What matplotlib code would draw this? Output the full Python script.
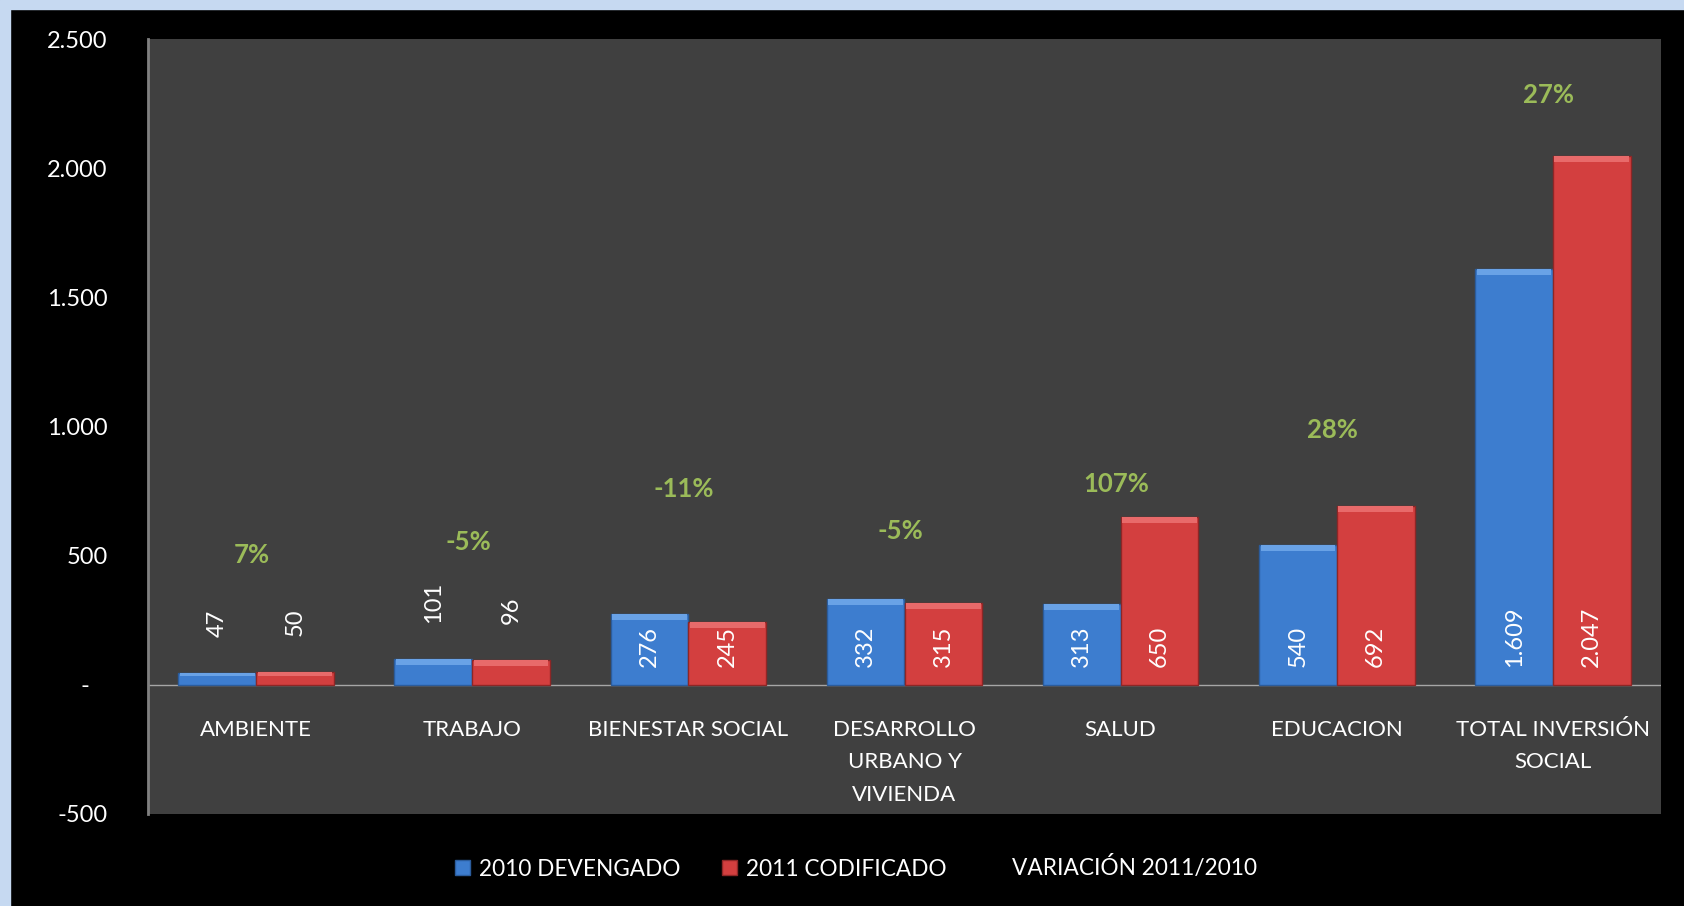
import matplotlib
matplotlib.use("Agg")
import matplotlib.pyplot as plt
from matplotlib.patches import Patch, Rectangle
from matplotlib.lines import Line2D
from matplotlib.ticker import FuncFormatter

plt.rcParams['font.family'] = ['Lato', 'DejaVu Sans']

# data (millones)
categorias = ["AMBIENTE", "TRABAJO", "BIENESTAR SOCIAL", "DESARROLLO\nURBANO Y\nVIVIENDA",
              "SALUD", "EDUCACION", "TOTAL INVERSIÓN\nSOCIAL"]
dev_2010 = [47, 101, 276, 332, 313, 540, 1609]
cod_2011 = [50, 96, 245, 315, 650, 692, 2047]
variacion = ["7%", "-5%", "-11%", "-5%", "107%", "28%", "27%"]
# heights where the variation labels sit
var_label_y = [503, 554, 759, 596, 778, 987, 2284]

azul, azul_claro, azul_osc = "#3D7DCF", "#69A2E6", "#2B5C9C"
rojo, rojo_claro, rojo_osc = "#D33F3F", "#E86A6A", "#8E2626"
verde = "#9BBB59"

fig = plt.figure(figsize=(16.84, 9.06), dpi=100, facecolor="black")
# light blue frame at top / left
fig.patches.append(Rectangle((0, 0), 10 / 1684, 1, transform=fig.transFigure, color="#C6D9F1", zorder=0))
fig.patches.append(Rectangle((0, 1 - 9 / 906), 1, 9 / 906, transform=fig.transFigure, color="#C6D9F1", zorder=0))

ax = fig.add_axes([148 / 1684, 92 / 906, 1513 / 1684, 775 / 906])
ax.set_facecolor("#404040")
ax.set_xlim(-0.5, len(categorias) - 0.5)
ax.set_ylim(-500, 2500)

w = 0.36
x = list(range(len(categorias)))
px = 3000 / 775  # data units per pixel
band = 6 * px

for serie, desp, c, cl, co in [(dev_2010, -w / 2, azul, azul_claro, azul_osc),
                               (cod_2011, w / 2, rojo, rojo_claro, rojo_osc)]:
    xs = [i + desp for i in x]
    ax.bar(xs, serie, width=w, color=c, edgecolor=co, linewidth=1, zorder=3)
    tops = [min(band, v * 0.3) for v in serie]
    ax.bar(xs, tops, bottom=[v - t for v, t in zip(serie, tops)], width=w * 0.96,
           color=cl, linewidth=0, zorder=4)
    for xi, v in zip(xs, serie):
        lab = f"{v:,}".replace(",", ".")
        if v < 150:
            ax.annotate(lab, (xi, v), xytext=(0, 26), textcoords="offset points",
                        rotation=90, ha="center", va="bottom", color="white", fontsize=17, zorder=5)
        else:
            ax.annotate(lab, (xi, 0), xytext=(0, 13), textcoords="offset points",
                        rotation=90, ha="center", va="bottom", color="white", fontsize=17, zorder=5)

for i, (t, yy) in enumerate(zip(variacion, var_label_y)):
    ax.text(i - 0.02, yy, t, color=verde, fontsize=18.5, fontweight="bold", ha="center", va="center", zorder=5)

for i, c in enumerate(categorias):
    ax.annotate(c, (i, 0), xytext=(0, -25), textcoords="offset points", ha="center", va="top",
                color="white", fontsize=16, linespacing=1.8)

ax.axhline(0, color="#A6A6A6", linewidth=1, zorder=2)
for s in ["top", "right", "bottom"]:
    ax.spines[s].set_visible(False)
ax.spines["left"].set_color("#808080")
ax.spines["left"].set_linewidth(2)
ax.set_xticks([])
ax.set_yticks([-500, 0, 500, 1000, 1500, 2000, 2500])
ax.yaxis.set_major_formatter(FuncFormatter(lambda v, p: "-   " if v == 0 else f"{int(v):,}".replace(",", ".")))
ax.tick_params(axis="y", length=0, pad=29, labelcolor="white", labelsize=17)

handles = [Patch(facecolor=azul, edgecolor=azul_osc), Patch(facecolor=rojo, edgecolor=rojo_osc),
           Line2D([], [], color="none")]
fig.legend(handles, ["2010 DEVENGADO", "2011 CODIFICADO", "VARIACIÓN 2011/2010"],
           loc="center", bbox_to_anchor=(856 / 1684, 1 - 868 / 906), ncol=3, frameon=False,
           handlelength=0.65, handleheight=0.65, handletextpad=0.4, columnspacing=1.85,
           fontsize=16.3, labelcolor="white")

fig.savefig("out.png", dpi=100, facecolor="black")
